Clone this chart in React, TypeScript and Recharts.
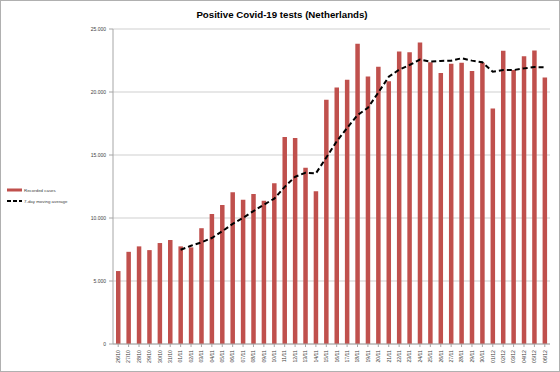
import React from 'react';
import { ComposedChart, Bar, Line, XAxis, YAxis, CartesianGrid, Legend } from 'recharts';

const dates = ['26/10','27/10','28/10','29/10','30/10','31/10','01/11','02/11','03/11','04/11','05/11','06/11','07/11','08/11','09/11','10/11','11/11','12/11','13/11','14/11','15/11','16/11','17/11','18/11','19/11','20/11','21/11','22/11','23/11','24/11','25/11','26/11','27/11','28/11','29/11','30/11','01/12','02/12','03/12','04/12','05/12','06/12'];
const cases = [5790,7316,7748,7452,8013,8253,7748,7668,9190,10310,11030,12045,11458,11912,11378,12767,16426,16346,13996,12126,19390,20350,20970,23825,21234,22009,20860,23210,23157,23931,22356,21501,22249,22329,21661,22329,18697,23264,21741,22837,23290,21154];
const avg: (number | null)[] = [null,null,null,null,null,null,7476,7800,8066,8413,8948,9535,10016,10550,11058,11538,12473,13274,13595,13541,14800,16080,17147,18162,18750,19952,21207,21768,22142,22569,22409,22462,22489,22676,22489,22356,21608,21741,21741,21875,21982,21955];
const yTicks = [0,5000,10000,15000,20000,25000];

const data = dates.map((d, i) => ({ date: d, cases: cases[i], avg: avg[i] }));

const FONT = '"Liberation Sans", Arial, sans-serif';

const XTick = (props: any) => {
  const { x, y, payload } = props;
  const ax = x + 1.8;
  const ay = y + 1;
  return (
    <text x={ax} y={ay} transform={`rotate(-90 ${ax} ${ay})`} textAnchor="end" fontSize={5.2} fill="#404040" fontFamily={FONT}>
      {payload.value}
    </text>
  );
};

const fmt = (v: number) => (v === 0 ? '0' : v.toLocaleString('de-DE'));

const LegendContent = () => (
  <div style={{ fontFamily: FONT, fontSize: 4.4, color: '#404040', lineHeight: '11px', textAlign: 'left' }}>
    <div style={{ display: 'flex', alignItems: 'center', height: 11 }}>
      <svg width={17} height={6} style={{ display: 'block' }}><rect x={1} y={1.5} width={15} height={3} fill="#c0504d" /></svg>
      <span style={{ marginLeft: 1 }}>Recorded cases</span>
    </div>
    <div style={{ display: 'flex', alignItems: 'center', height: 11 }}>
      <svg width={17} height={6} style={{ display: 'block' }}><line x1={1} y1={3} x2={16} y2={3} stroke="#000" strokeWidth={2} strokeDasharray="4 2" /></svg>
      <span style={{ marginLeft: 1 }}>7-day moving average</span>
    </div>
  </div>
);

export default function App() {
  return (
    <div style={{ position: 'absolute', left: 0, top: 0, width: 560, height: 372, background: '#fff' }}>
      <div style={{ position: 'absolute', left: 0, top: 0, width: 558, height: 370, border: '1px solid #b0b0b0', pointerEvents: 'none', zIndex: 2 }} />
      <div style={{ position: 'absolute', left: 0, top: 9, width: 564, textAlign: 'center', fontFamily: FONT, fontWeight: 'bold', fontSize: 9.7, color: '#000', zIndex: 1 }}>
        Positive Covid-19 tests (Netherlands)
      </div>
      <ComposedChart width={560} height={372} data={data} margin={{ top: 29, right: 10, bottom: 0, left: 0 }}>
        <CartesianGrid vertical={false} stroke="#cfcfcf" strokeWidth={1} />
        <XAxis dataKey="date" interval={0} height={28} tick={<XTick />} tickLine={{ stroke: '#a6a6a6' }} tickSize={3} axisLine={{ stroke: '#a6a6a6' }} />
        <YAxis width={113} domain={[0, 25000]} ticks={yTicks} tickFormatter={fmt} tick={{ fontSize: 5, fill: '#404040', fontFamily: FONT }} tickSize={4} tickMargin={3} tickLine={{ stroke: '#a6a6a6' }} axisLine={{ stroke: '#a6a6a6' }} />
        <Legend layout="horizontal" verticalAlign="middle" align="center" content={<LegendContent />} wrapperStyle={{ position: 'absolute', left: 6, top: 184.5, width: 100 }} />
        <Bar dataKey="cases" name="Recorded cases" fill="#c0504d" barSize={4.5} isAnimationActive={false} />
        <Line dataKey="avg" name="7-day moving average" stroke="#000" strokeWidth={2} strokeDasharray="5 3" dot={false} connectNulls={false} isAnimationActive={false} />
      </ComposedChart>
    </div>
  );
}
